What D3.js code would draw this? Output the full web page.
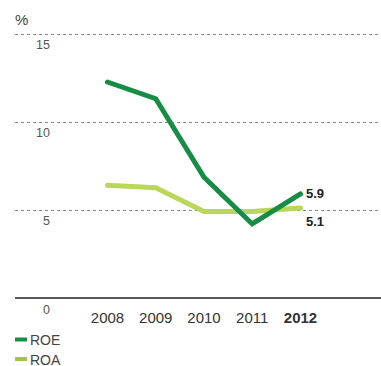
<!DOCTYPE html>
<html><head><meta charset="utf-8">
<script src="https://cdn.jsdelivr.net/npm/d3@7"></script>
<style>body{margin:0;background:#fff}svg{display:block;font-family:"Liberation Sans",Arial,sans-serif}</style>
</head><body><svg id="c" width="381" height="366"></svg>
<script>
const years = ["2008","2009","2010","2011","2012"];
const roe = [12.25, 11.3, 6.85, 4.2, 5.9];
const roa = [6.4, 6.25, 4.9, 4.9, 5.1];
const yTicks = [0, 5, 10, 15];
const seriesNames = ["ROE", "ROA"];
const colors = ["#168c45", "#bad65b"];
const swatchColors = ["#168c45", "#a2c93e"];

const svg = d3.select("#c");
const x = d3.scalePoint().domain(years).range([107.5, 300.5]);
const y = d3.scaleLinear().domain([0, 15]).range([298, 33.5]);

// gridlines
svg.append("g").selectAll("line").data(yTicks.filter(d => d > 0)).join("line")
  .attr("x1", 15).attr("x2", 381)
  .attr("y1", d => Math.round(y(d)) + 0.5).attr("y2", d => Math.round(y(d)) + 0.5)
  .attr("stroke", "#8a8a8a").attr("stroke-width", 1).attr("stroke-dasharray", "3,3");
svg.append("line").attr("x1", 15).attr("x2", 381)
  .attr("y1", y(0)).attr("y2", y(0)).attr("stroke", "#222").attr("stroke-width", 1.3);

// y tick labels
svg.append("g").selectAll("text").data(yTicks).join("text")
  .attr("x", 50).attr("y", d => y(d) + 15.5)
  .attr("text-anchor", "end").attr("font-size", 12.5).attr("fill", "#555")
  .text(d => d);
svg.append("text").attr("x", 15).attr("y", 25).attr("font-size", 15).attr("fill", "#444").text("%");

// x labels
svg.append("g").selectAll("text").data(years).join("text")
  .attr("x", d => x(d)).attr("y", 322.5).attr("text-anchor", "middle")
  .attr("font-size", 15).attr("fill", "#333")
  .attr("font-weight", (d, i) => i === years.length - 1 ? "bold" : "normal")
  .text(d => d);

// lines
const line = d3.line().x((d, i) => x(years[i])).y(d => y(d));
[roa, roe].forEach((s, k) => {
  const idx = k === 0 ? 1 : 0;
  svg.append("path").attr("d", line(s)).attr("fill", "none")
    .attr("stroke", colors[idx]).attr("stroke-width", 5)
    .attr("stroke-linejoin", "miter").attr("stroke-linecap", "round");
});

// end labels
const last = years.length - 1;
svg.append("text").attr("x", 306).attr("y", y(roe[last]) + 4)
  .attr("font-size", 13).attr("font-weight", "bold").attr("fill", "#222").text(roe[last].toFixed(1));
svg.append("text").attr("x", 306).attr("y", y(roa[last]) + 17.5)
  .attr("font-size", 13).attr("font-weight", "bold").attr("fill", "#222").text(roa[last].toFixed(1));

// legend
const lg = svg.append("g").selectAll("g").data(seriesNames).join("g")
  .attr("transform", (d, i) => `translate(15,${339.5 + i * 19.5})`);
lg.append("rect").attr("x", 0).attr("y", -2).attr("width", 12).attr("height", 4)
  .attr("fill", (d, i) => swatchColors[i]);
lg.append("text").attr("x", 15).attr("y", 5.5).attr("font-size", 14).attr("fill", "#444").text(d => d);
</script></body></html>
